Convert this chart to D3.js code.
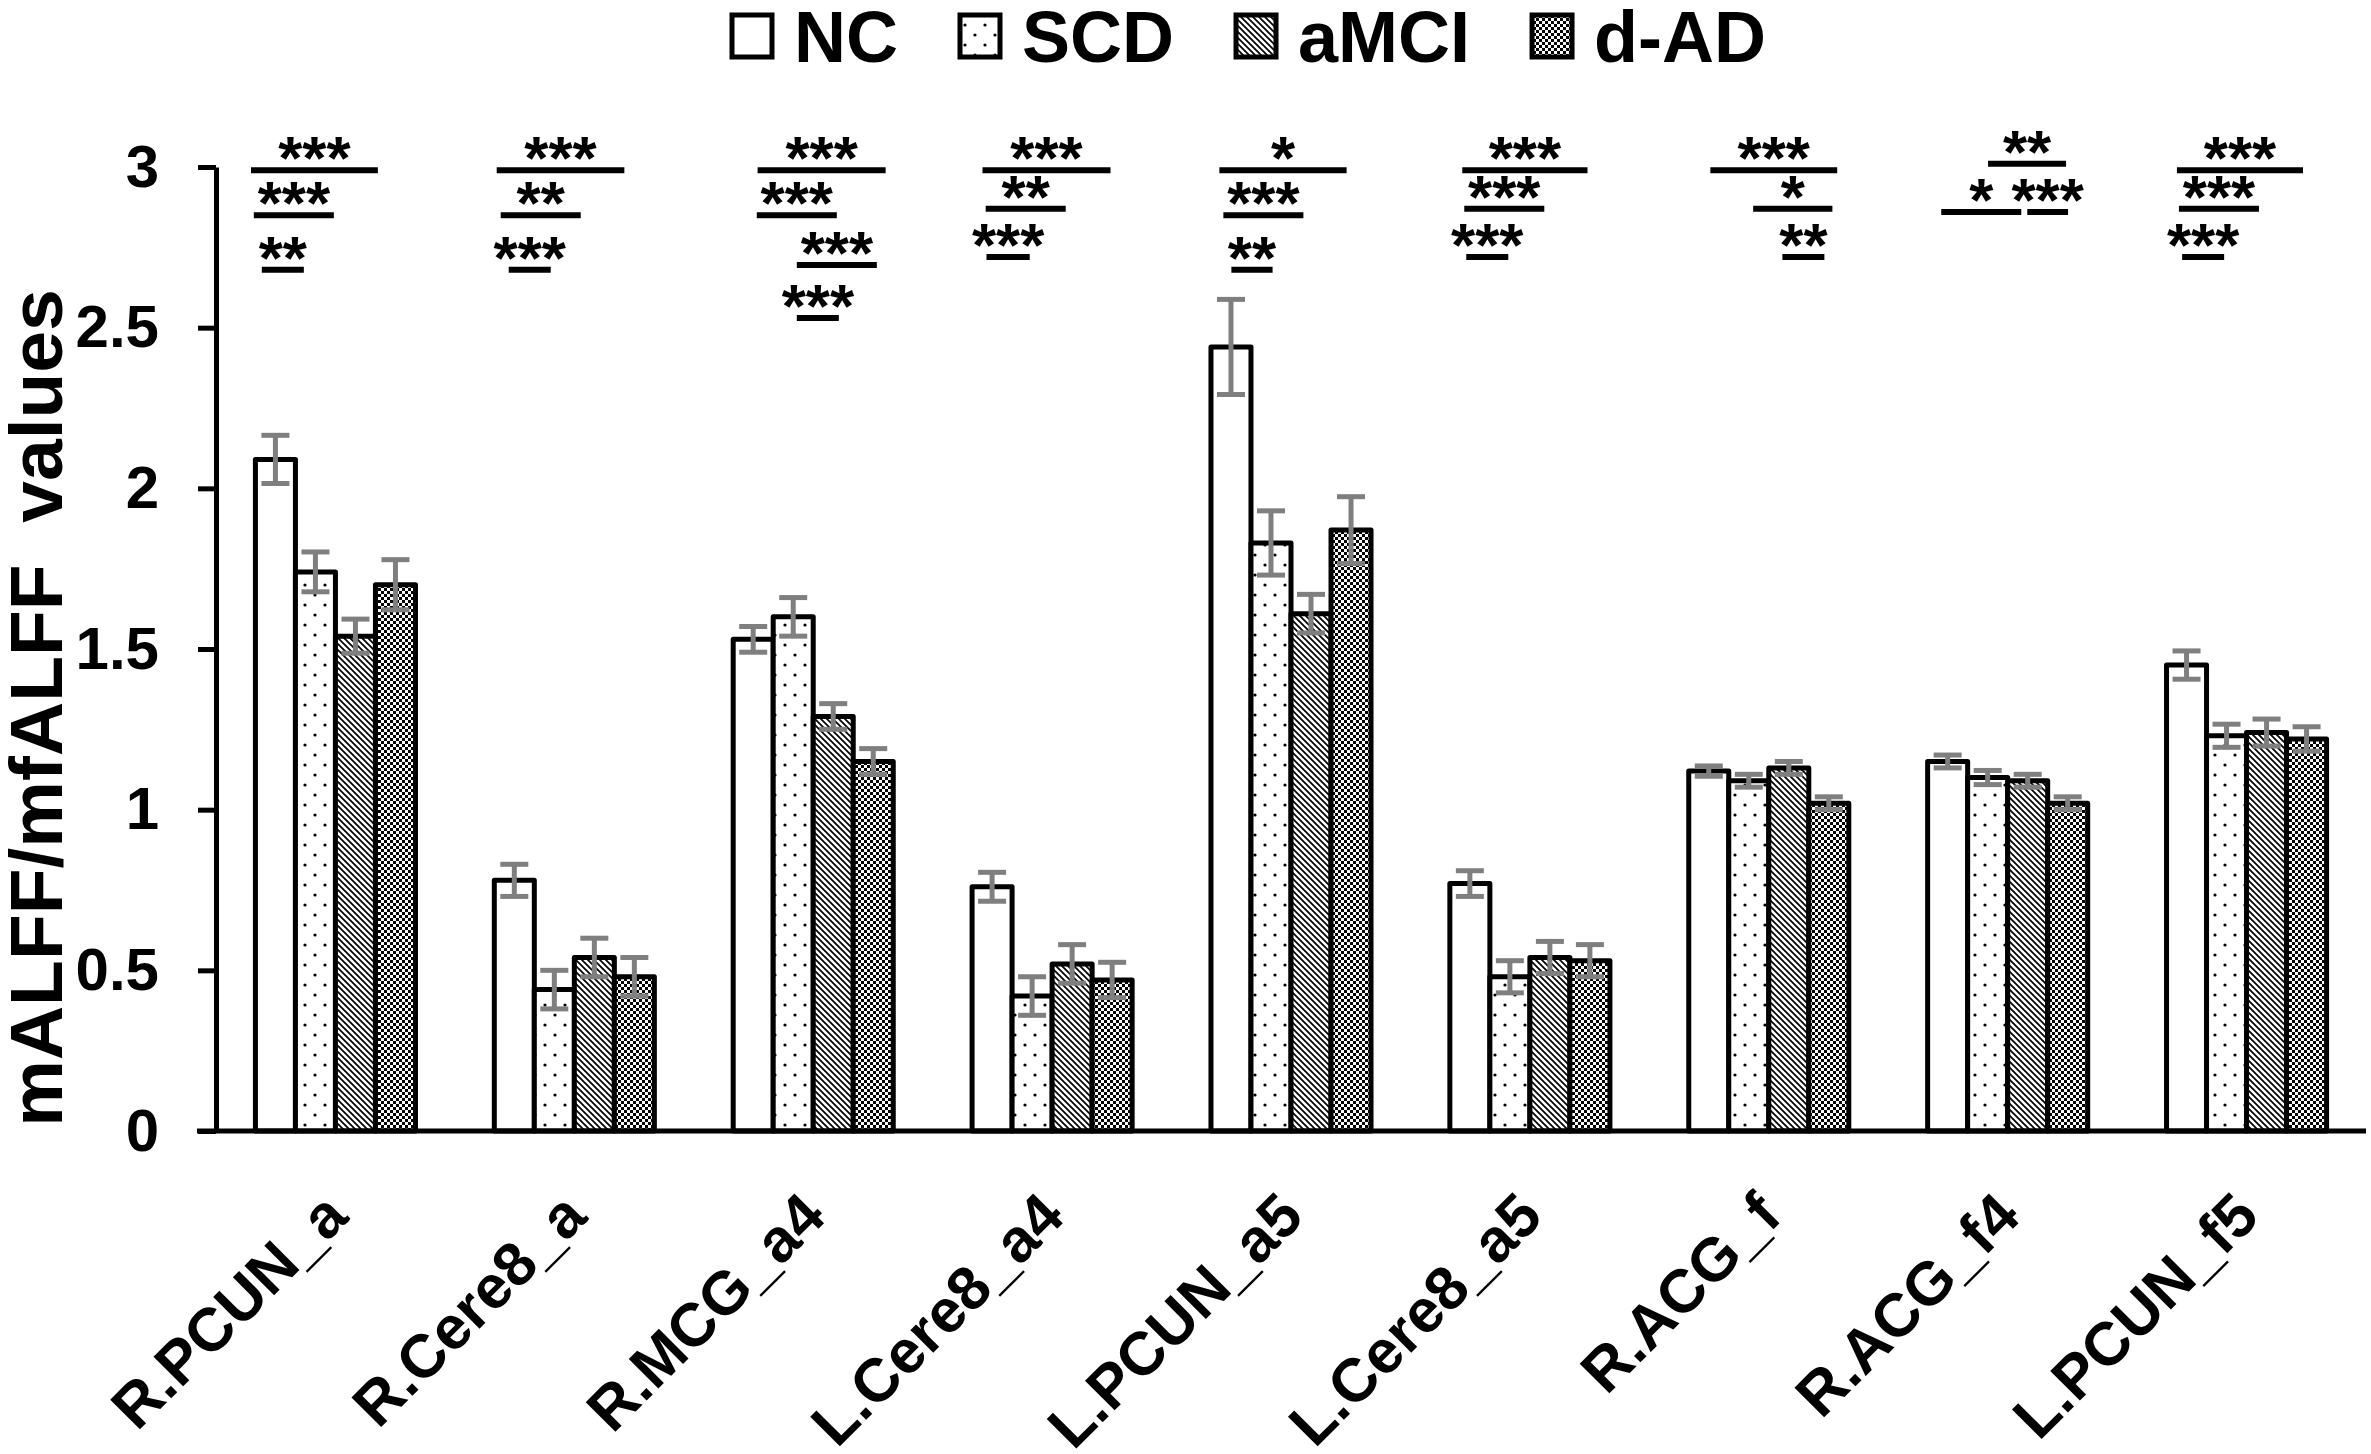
<!DOCTYPE html>
<html>
<head>
<meta charset="utf-8">
<script src="https://cdn.jsdelivr.net/npm/d3@7"></script>
<style>
  body { margin: 0; background: #fff; }
  text { font-family: "Liberation Sans", Arial, sans-serif; font-weight: bold; fill: #000; }
</style>
</head>
<body>
<div id="chart"></div>
<script>
  // categories and groups
  const regions = ["R.PCUN_a", "R.Cere8_a", "R.MCG_a4", "L.Cere8_a4", "L.PCUN_a5",
    "L.Cere8_a5", "R.ACG_f", "R.ACG_f4", "L.PCUN_f5"];
  const groups = ["NC", "SCD", "aMCI", "d-AD"];

  // mean values per group
  const ncValues   = [2.09, 0.78, 1.53, 0.76, 2.44, 0.77, 1.12, 1.15, 1.45];
  const scdValues  = [1.74, 0.44, 1.60, 0.42, 1.83, 0.48, 1.09, 1.10, 1.23];
  const amciValues = [1.54, 0.54, 1.29, 0.52, 1.61, 0.54, 1.13, 1.09, 1.24];
  const dadValues  = [1.70, 0.48, 1.15, 0.47, 1.87, 0.53, 1.02, 1.02, 1.22];

  // error bar half-lengths
  const ncErr   = [0.075, 0.05, 0.04, 0.045, 0.148, 0.04, 0.016, 0.02, 0.044];
  const scdErr  = [0.062, 0.06, 0.06, 0.06, 0.10, 0.05, 0.02, 0.022, 0.036];
  const amciErr = [0.053, 0.06, 0.04, 0.06, 0.06, 0.05, 0.02, 0.02, 0.042];
  const dadErr  = [0.078, 0.06, 0.04, 0.055, 0.104, 0.05, 0.02, 0.02, 0.038];

  const yTicks = [0, 0.5, 1, 1.5, 2, 2.5, 3];

  // significance marks: [region index, from (bar units), to (bar units), level (value), label]
  const sigMarks = [
    [0, -0.11, 3.06, 2.99, "***"], [0, -0.04, 1.96, 2.85, "***"], [0, 0.16, 1.21, 2.68, "**"],
    [1, 0.06, 3.25, 2.99, "***"], [1, 0.16, 2.16, 2.85, "**"], [1, 0.36, 1.41, 2.68, "***"],
    [2, 0.61, 3.81, 2.99, "***"], [2, 0.59, 2.59, 2.85, "***"], [2, 1.59, 3.59, 2.695, "***"], [2, 1.59, 2.64, 2.53, "***"],
    [3, 0.26, 3.46, 2.99, "***"], [3, 0.34, 2.34, 2.87, "**"], [3, 0.36, 1.44, 2.72, "***"],
    [4, 0.21, 3.39, 2.99, "*"], [4, 0.31, 2.31, 2.85, "***"], [4, 0.51, 1.54, 2.68, "**"],
    [5, 0.31, 3.44, 2.99, "***"], [5, 0.36, 2.36, 2.87, "***"], [5, 0.41, 1.46, 2.72, "***"],
    [6, 0.54, 3.71, 2.99, "***"], [6, 1.61, 3.59, 2.87, "*"], [6, 2.34, 3.39, 2.72, "**"],
    [7, 1.51, 3.46, 3.01, "**"], [7, 0.34, 2.34, 2.86, "*"], [7, 2.49, 3.51, 2.86, "***"],
    [8, 0.26, 3.41, 2.99, "***"], [8, 0.31, 2.31, 2.87, "***"], [8, 0.39, 1.44, 2.72, "***"]
  ];

  const width = 2371,
    height = 1454,
    margin = { top: 167, bottom: 323, left: 216, right: 5 };

  const series = [ncValues, scdValues, amciValues, dadValues];
  const errors = [ncErr, scdErr, amciErr, dadErr];
  const fills = ["url(#p-nc)", "url(#p-scd)", "url(#p-amci)", "url(#p-dad)"];

  const data = [];
  regions.forEach((r, i) => {
    groups.forEach((g, j) => {
      data.push({ region: r, group: g, value: series[j][i], err: errors[j][i], gi: j });
    });
  });

  const svg = d3.select("#chart")
    .append("svg")
    .attr("width", width)
    .attr("height", height);

  /* PATTERNS */
  const defs = svg.append("defs");

  defs.append("pattern").attr("id", "p-nc")
    .attr("patternUnits", "userSpaceOnUse").attr("width", 10).attr("height", 10)
    .append("rect").attr("width", 10).attr("height", 10).attr("fill", "#fff");

  const pScd = defs.append("pattern").attr("id", "p-scd")
    .attr("patternUnits", "userSpaceOnUse").attr("width", 20).attr("height", 20);
  pScd.append("rect").attr("width", 20).attr("height", 20).attr("fill", "#fff");
  pScd.selectAll("circle").data([[5, 5], [15, 15]]).join("circle")
    .attr("cx", d => d[0]).attr("cy", d => d[1]).attr("r", 1.6).attr("fill", "#000");

  const pAmci = defs.append("pattern").attr("id", "p-amci")
    .attr("patternUnits", "userSpaceOnUse").attr("width", 6).attr("height", 6);
  pAmci.append("rect").attr("width", 6).attr("height", 6).attr("fill", "#fff");
  pAmci.append("path")
    .attr("d", "M-1,-1L7,7M-1,5L1,7M5,-1L7,1")
    .attr("stroke", "#000").attr("stroke-width", 1.7);

  const pDad = defs.append("pattern").attr("id", "p-dad")
    .attr("patternUnits", "userSpaceOnUse").attr("width", 6).attr("height", 6);
  pDad.append("rect").attr("width", 6).attr("height", 6).attr("fill", "#fff");
  pDad.append("rect").attr("width", 3).attr("height", 3).attr("fill", "#000");
  pDad.append("rect").attr("x", 3).attr("y", 3).attr("width", 3).attr("height", 3).attr("fill", "#000");

  /* SCALES */
  const xScale = d3.scaleBand()
    .domain(regions)
    .range([margin.left, width - margin.right])
    .paddingInner(0.33)
    .paddingOuter(0.165);

  const xInner = d3.scaleBand()
    .domain(groups)
    .range([0, xScale.bandwidth()]);

  const yScale = d3.scaleLinear()
    .domain([0, 3])
    .range([height - margin.bottom, margin.top]);

  /* BARS */
  const barG = svg.append("g");
  barG.selectAll("rect")
    .data(data)
    .join("rect")
    .attr("x", d => xScale(d.region) + xInner(d.group))
    .attr("y", d => yScale(d.value))
    .attr("width", xInner.bandwidth())
    .attr("height", d => yScale(0) - yScale(d.value))
    .attr("fill", d => fills[d.gi])
    .attr("stroke", "#000")
    .attr("stroke-width", 5)
    .attr("stroke-linejoin", "round");

  /* ERROR BARS */
  const errG = svg.append("g")
    .attr("stroke", "#7f7f7f")
    .attr("stroke-width", 5);
  const cx = d => xScale(d.region) + xInner(d.group) + xInner.bandwidth() / 2;
  errG.selectAll(".stem").data(data).join("line").attr("class", "stem")
    .attr("x1", cx).attr("x2", cx)
    .attr("y1", d => yScale(d.value + d.err))
    .attr("y2", d => yScale(d.value - d.err));
  errG.selectAll(".capt").data(data).join("line").attr("class", "capt")
    .attr("x1", d => cx(d) - 14).attr("x2", d => cx(d) + 14)
    .attr("y1", d => yScale(d.value + d.err)).attr("y2", d => yScale(d.value + d.err));
  errG.selectAll(".capb").data(data).join("line").attr("class", "capb")
    .attr("x1", d => cx(d) - 14).attr("x2", d => cx(d) + 14)
    .attr("y1", d => yScale(d.value - d.err)).attr("y2", d => yScale(d.value - d.err));

  /* AXES */
  const yAxis = d3.axisLeft(yScale)
    .tickValues(yTicks)
    .tickFormat(d => String(d))
    .tickSize(18)
    .tickSizeOuter(0)
    .tickPadding(39);

  const yG = svg.append("g")
    .attr("transform", `translate(${margin.left},0)`)
    .call(yAxis);
  yG.select(".domain").attr("stroke", "#000").attr("stroke-width", 5);
  yG.selectAll(".tick line").attr("stroke", "#000").attr("stroke-width", 5);
  yG.selectAll(".tick text")
    .style("font-family", "'Liberation Sans', Arial, sans-serif")
    .style("font-weight", "bold")
    .style("font-size", "60px")
    .attr("fill", "#000");

  const xAxis = d3.axisBottom(xScale)
    .tickSize(0)
    .tickSizeOuter(0);

  const xG = svg.append("g")
    .attr("transform", `translate(0,${yScale(0)})`)
    .call(xAxis);
  xG.select(".domain").attr("stroke", "#000").attr("stroke-width", 5)
    .attr("d", `M${margin.left - 19},0H${width - margin.right}`);
  xG.selectAll(".tick text")
    .attr("y", 0)
    .attr("dy", 0)
    .attr("transform", "translate(15,88) rotate(-45)")
    .style("text-anchor", "end")
    .style("font-family", "'Liberation Sans', Arial, sans-serif")
    .style("font-weight", "bold")
    .style("font-size", "61px")
    .attr("fill", "#000");

  // y title
  svg.append("text")
    .attr("transform", `translate(62,${(yScale(0) + yScale(3)) / 2 + 59}) rotate(-90)`)
    .attr("text-anchor", "middle")
    .style("font-size", "75px")
    .attr("xml:space", "preserve")
    .text("mALFF/mfALFF  values");

  /* SIGNIFICANCE */
  const sigG = svg.append("g");
  const unit = d3.scaleLinear().domain([0, 4]).range([0, xScale.bandwidth()]);
  sigG.selectAll("line")
    .data(sigMarks)
    .join("line")
    .attr("x1", d => xScale(regions[d[0]]) + unit(d[1]))
    .attr("x2", d => xScale(regions[d[0]]) + unit(d[2]))
    .attr("y1", d => yScale(d[3]))
    .attr("y2", d => yScale(d[3]))
    .attr("stroke", "#000")
    .attr("stroke-width", 6);
  sigG.selectAll("text")
    .data(sigMarks)
    .join("text")
    .attr("x", d => xScale(regions[d[0]]) + unit((d[1] + d[2]) / 2))
    .attr("y", d => yScale(d[3]) + 9)
    .attr("text-anchor", "middle")
    .style("font-size", "62px")
    .text(d => d[4]);

  /* LEGEND */
  const legend = svg.append("g");
  let lx = 732;
  groups.forEach((g, j) => {
    legend.append("rect")
      .attr("x", lx).attr("y", 15)
      .attr("width", 40).attr("height", 42)
      .attr("fill", fills[j])
      .attr("stroke", "#000").attr("stroke-width", 5);
    const t = legend.append("text")
      .attr("x", lx + 62).attr("y", 62)
      .style("font-size", "72px")
      .text(g);
    lx += 62 + t.node().getComputedTextLength() + 62;
  });
</script>
</body>
</html>
